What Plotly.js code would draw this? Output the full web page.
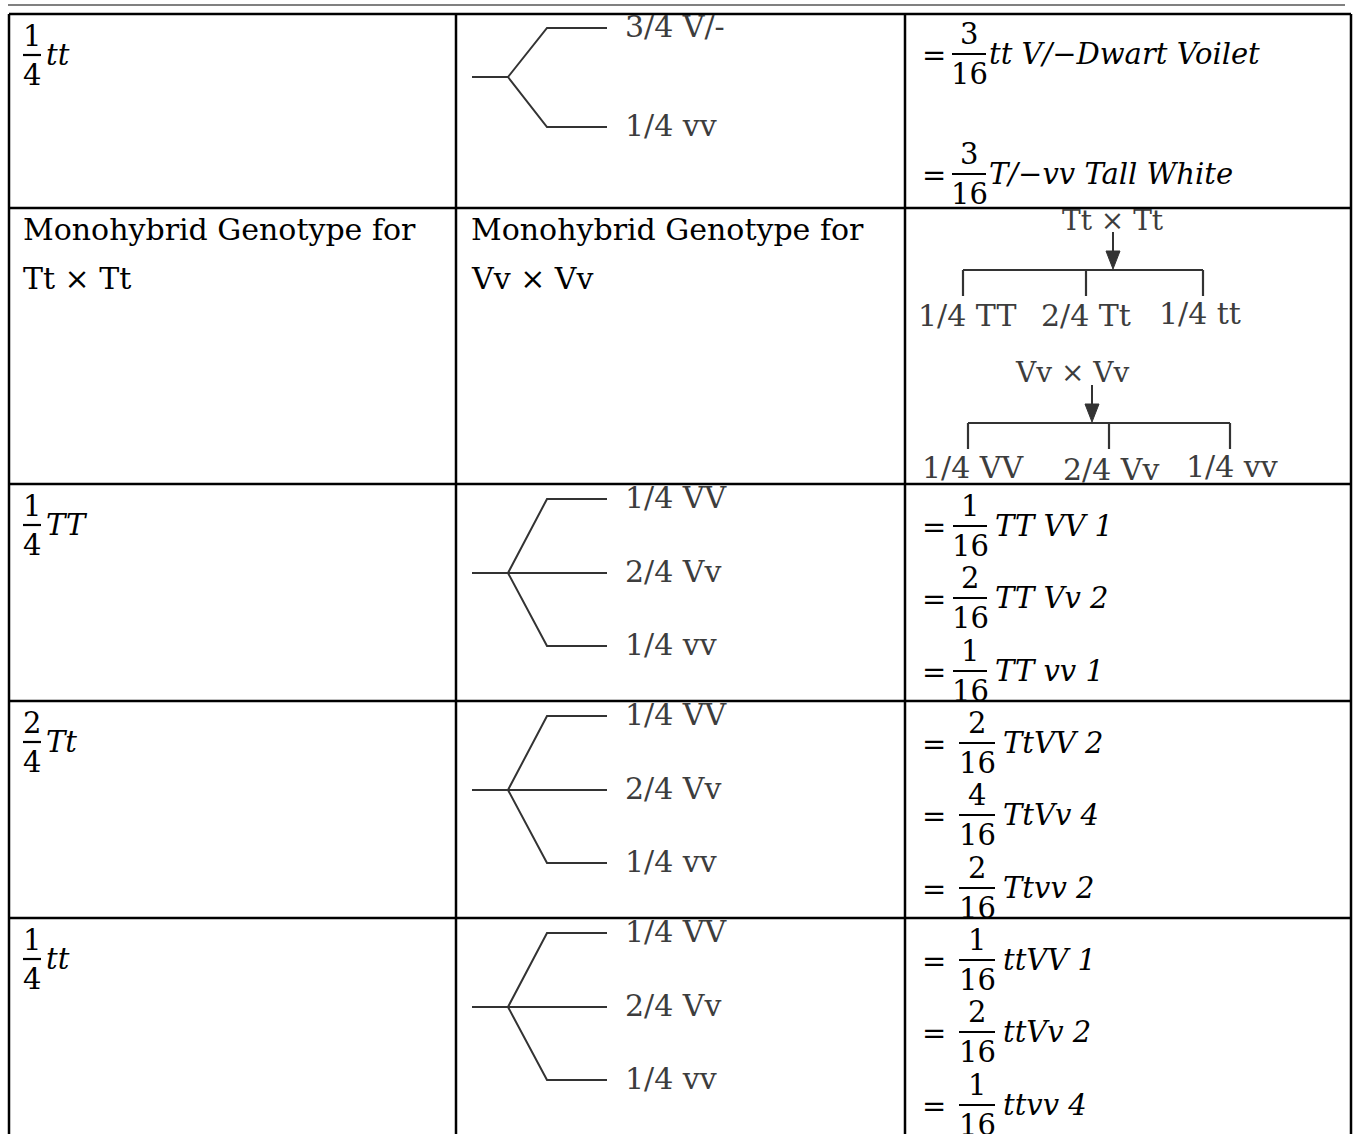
<!DOCTYPE html>
<html><head><meta charset="utf-8">
<script src="https://cdn.plot.ly/plotly-3.0.1.min.js"></script>
<style>html,body{margin:0;padding:0;background:#fff;} #chart{width:1354px;height:1134px;}</style>
</head><body><div id="chart"></div>
<script>
// ---------- DATA ----------
const genoNum = ['1', null, '1', '2', '1'];
const genoDen = ['4', null, '4', '4', '4'];
const genoSym = ['tt', null, 'TT', 'Tt', 'tt'];
const branchLabels = [
  ['3/4 V/-', '1/4 vv'],
  null,
  ['1/4 VV', '2/4 Vv', '1/4 vv'],
  ['1/4 VV', '2/4 Vv', '1/4 vv'],
  ['1/4 VV', '2/4 Vv', '1/4 vv']
];
const resultNum = [['3', '3'], null, ['1', '2', '1'], ['2', '4', '2'], ['1', '2', '1']];
const resultDen = [['16', '16'], null, ['16', '16', '16'], ['16', '16', '16'], ['16', '16', '16']];
const resultSym = [
  ['tt V/\u2212Dwart Voilet', 'T/\u2212vv Tall White'],
  null,
  ['TT VV 1', 'TT Vv 2', 'TT vv 1'],
  ['TtVV 2', 'TtVv 4', 'Ttvv 2'],
  ['ttVV 1', 'ttVv 2', 'ttvv 4']
];
const monoTitle = ['Monohybrid Genotype for', 'Monohybrid Genotype for'];
const monoCross = ['Tt \u00d7 Tt', 'Vv \u00d7 Vv'];
const crossParent = ['Tt \u00d7 Tt', 'Vv \u00d7 Vv'];
const crossOffspring = [['1/4 TT', '2/4 Tt', '1/4 tt'], ['1/4 VV', '2/4 Vv', '1/4 vv']];

// ---------- GEOMETRY / STYLE ----------
const colX = [9, 456, 905, 1351];
const rowY = [14, 208, 484, 701, 918, 1150];
const SERIF = 'DejaVu Serif, Liberation Serif, serif';
const INK = '#000';
const GREY = '#3d3d3d';
const LINE = '#333';

const shapes = [];
const ann = [];
function seg(x0, y0, x1, y1, color, width) {
  shapes.push({type: 'line', xref: 'x', yref: 'y', x0, y0, x1, y1, line: {color, width}});
}
function poly(pts, color, width) {
  const d = 'M ' + pts.map(p => p[0] + ',' + p[1]).join(' L ');
  shapes.push({type: 'path', xref: 'x', yref: 'y', path: d, line: {color, width}, fillcolor: 'rgba(0,0,0,0)'});
}
function tri(x, yTop, yTip, half, color) {
  shapes.push({type: 'path', xref: 'x', yref: 'y',
    path: `M ${x - half},${yTop} L ${x + half},${yTop} L ${x},${yTip} Z`,
    line: {color, width: 1}, fillcolor: color});
}
function txt(x, y, text, size, color, xanchor) {
  ann.push({x, y, xref: 'x', yref: 'y', text, showarrow: false,
    xanchor: xanchor || 'left', yanchor: 'middle',
    font: {family: SERIF, size, color}, borderpad: 0});
}

// top rule
seg(8, 5, 1345, 5, '#808080', 2);
// table grid
colX.forEach(x => seg(x, rowY[0], x, rowY[5], INK, 2.5));
rowY.slice(0, 5).forEach(y => seg(colX[0], y, colX[3], y, INK, 2.5));

// column 1 fractions
genoNum.forEach((n, r) => {
  if (n === null) return;
  const bar = rowY[r] + 41;
  seg(23, bar, 41, bar, INK, 2.2);
  txt(32, bar - 19, n, 29, INK, 'center');
  txt(32, bar + 20, genoDen[r], 29, INK, 'center');
  txt(45, bar, '<i>' + genoSym[r] + '</i>', 29, INK);
});

// column 2 trees
branchLabels.forEach((labels, r) => {
  if (labels === null) return;
  const top = rowY[r];
  const offs = labels.length === 2 ? [14, 113] : [15, 89, 162];
  const stem = top + (labels.length === 2 ? 63 : 89);
  seg(472, stem, 508, stem, LINE, 2);
  labels.forEach((lab, i) => {
    const by = top + offs[i];
    if (Math.abs(by - stem) < 1) seg(508, stem, 607, stem, LINE, 2);
    else poly([[508, stem], [547, by], [607, by]], LINE, 2);
    txt(624, by - 2, lab, 30, GREY);
  });
});

// row 2 text columns 1 & 2
monoTitle.forEach((t, i) => {
  const x = i === 0 ? 22 : 470;
  txt(x, 229, t, 30, INK);
  txt(x, 278, monoCross[i], 30, INK);
});

// row 2 column 3 cross diagrams
const crossGeo = [
  {px: 1113, py: 220, ax: 1113, a0: 232, aTip: 269, bar: 270, xs: [963, 1086, 1203], tick: 296, lx: [967, 1086, 1200], ly: [315, 315, 313]},
  {px: 1072, py: 372, ax: 1092, a0: 385, aTip: 422, bar: 423, xs: [968, 1109, 1230], tick: 449, lx: [973, 1111, 1232], ly: [467, 469, 466]}
];
crossParent.forEach((p, i) => {
  const g = crossGeo[i];
  txt(g.px, g.py, p, 28, GREY, 'center');
  seg(g.ax, g.a0, g.ax, g.aTip - 16, LINE, 2);
  tri(g.ax, g.aTip - 18, g.aTip, 7, LINE);
  seg(g.xs[0], g.bar, g.xs[2], g.bar, LINE, 2.2);
  g.xs.forEach(x => seg(x, g.bar, x, g.tick, LINE, 2.2));
  crossOffspring[i].forEach((lab, j) => txt(g.lx[j], g.ly[j], lab, 30, GREY, 'center'));
});

// column 3 results
const resGeo = [
  {offs: [40, 160], b0: 952, b1: 986, tx: 988},
  null,
  {offs: [42, 114, 187], b0: 953, b1: 987, tx: 994},
  {offs: [42, 114, 187], b0: 959, b1: 995, tx: 1002},
  {offs: [42, 114, 187], b0: 959, b1: 995, tx: 1002}
];
resultNum.forEach((nums, r) => {
  if (nums === null) return;
  const g = resGeo[r];
  nums.forEach((n, i) => {
    const bar = rowY[r] + g.offs[i];
    txt(921, bar + 1, '=', 29, INK);
    seg(g.b0, bar, g.b1, bar, INK, 2.2);
    const cx = (g.b0 + g.b1) / 2;
    txt(cx, bar - 20, n, 29, INK, 'center');
    txt(cx, bar + 20, resultDen[r][i], 29, INK, 'center');
    txt(g.tx, bar, '<i>' + resultSym[r][i] + '</i>', 29, INK);
  });
});

const layout = {
  width: 1354, height: 1134,
  margin: {l: 0, r: 0, t: 0, b: 0},
  paper_bgcolor: '#fff', plot_bgcolor: '#fff',
  xaxis: {range: [0, 1354], visible: false, fixedrange: true},
  yaxis: {range: [1134, 0], visible: false, fixedrange: true},
  showlegend: false,
  shapes, annotations: ann
};
Plotly.newPlot('chart', [{x: [0], y: [0], mode: 'markers', marker: {opacity: 0}, hoverinfo: 'skip'}], layout, {staticPlot: true, displayModeBar: false});
</script>
</body></html>
